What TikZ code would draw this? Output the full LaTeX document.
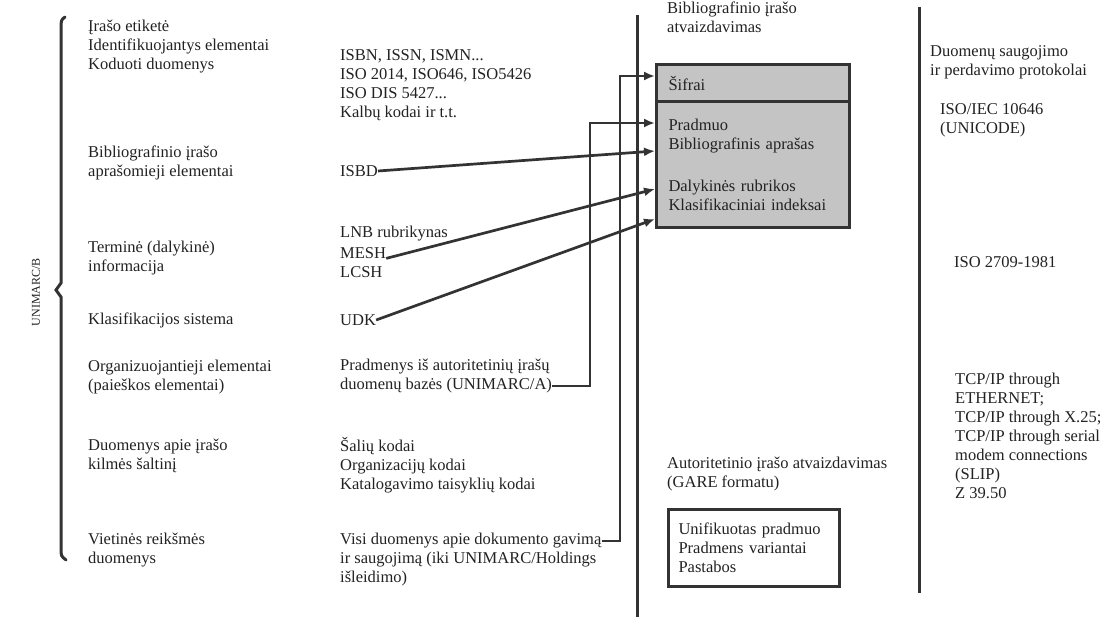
\documentclass[tikz,border=0pt]{standalone}
\usepackage{fontspec}
\setmainfont{Liberation Serif}
\usetikzlibrary{arrows.meta}
\newcommand\dfont{\fontsize{16.5}{19}\selectfont}
\definecolor{ink}{HTML}{222222}
\definecolor{lineink}{HTML}{333333}
\definecolor{boxfill}{HTML}{C4C4C4}
\tikzset{
  txt/.style={anchor=west, inner sep=0pt, align=left, font=\dfont, text=ink},
  ln/.style={line width=2.7pt, draw=lineink},
  arr/.style={ln, -{Latex[length=11pt,width=9pt]}},
  sepline/.style={line width=3pt, draw=lineink},
  graybox/.style={draw=lineink, line width=3pt, fill=boxfill, anchor=north west,
    minimum width=193pt, inner xsep=12pt, text width=169pt, align=left, font=\dfont, text=ink},
  whitebox/.style={draw=lineink, line width=3pt, anchor=north west,
    minimum width=171pt, minimum height=77pt, inner xsep=10pt, text width=151pt, align=left, font=\dfont, text=ink},
}
\begin{document}
\begin{tikzpicture}[x=1pt,y=-1pt]
\useasboundingbox (0,0) rectangle (1120,623);

% left brace
\draw[line width=3pt, draw=lineink, line cap=round]
  (65,17) .. controls (61,20) .. (61,30) -- (61,283) -- (56,290) -- (61,297)
  -- (61,548) .. controls (61,556) .. (66,560);
\node[rotate=90, inner sep=0pt, font=\fontsize{12}{13}\selectfont, text=ink] (unimarc) at (36,292) {UNIMARC/B};

% left column
\node[txt] (l1) at (88,47) {Įrašo etiketė\\Identifikuojantys elementai\\Koduoti duomenys};
\node[txt] (l2) at (88,162.5) {Bibliografinio įrašo\\aprašomieji elementai};
\node[txt] (l3) at (88,258.5) {Terminė (dalykinė)\\informacija};
\node[txt] (l4) at (88,320) {Klasifikacijos sistema};
\node[txt] (l5) at (88,377.5) {Organizuojantieji elementai\\(paieškos elementai)};
\node[txt] (l6) at (88,455.5) {Duomenys apie įrašo\\kilmės šaltinį};
\node[txt] (l7) at (88,550.5) {Vietinės reikšmės\\duomenys};

% middle column
\node[txt] (m1) at (340,85) {ISBN, ISSN, ISMN...\\ISO 2014, ISO646, ISO5426\\ISO DIS 5427...\\Kalbų kodai ir t.t.};
\node[txt] (isbd) at (340,171) {ISBD};
\node[txt] (lnb) at (340,234) {LNB rubrikynas};
\node[txt] (mesh) at (340,253) {MESH};
\node[txt] (lcsh) at (340,272) {LCSH};
\node[txt] (udk) at (340,320) {UDK};
\node[txt] (m5a) at (340,367) {Pradmenys iš autoritetinių įrašų};
\node[txt] (m5b) at (340,386) {duomenų bazės (UNIMARC/A)};
\node[txt] (m6) at (340,465) {Šalių kodai\\Organizacijų kodai\\Katalogavimo taisyklių kodai};
\node[txt] (m7a) at (340,541) {Visi duomenys apie dokumento gavimą};
\node[txt] (m7b) at (340,569.5) {ir saugojimą (iki UNIMARC/Holdings\\išleidimo)};

% separators
\draw[sepline] (637,15) -- (637,617);
\draw[sepline] (919,7) -- (919,593);

% bibliographic record display
\node[txt] (bibt) at (667,17.5) {Bibliografinio įrašo\\atvaizdavimas};
\node[graybox, minimum height=37pt] (sif) at (655,63) {Šifrai};
\node[graybox, minimum height=126pt] (body) at (655,100)
  {Pradmuo\\Bibliografinis aprašas\\[23pt]Dalykinės rubrikos\\Klasifikaciniai indeksai};

% authority record display
\node[txt] (autt) at (667,474.5) {Autoritetinio įrašo atvaizdavimas\\(GARE formatu)};
\node[whitebox] (auth) at (667,508) {Unifikuotas pradmuo\\Pradmens variantai\\Pastabos};

% right column
\node[txt] (r1) at (930,62) {Duomenų saugojimo\\ir perdavimo protokolai};
\node[txt] (r2) at (940,120) {ISO/IEC 10646\\(UNICODE)};
\node[txt] (r3) at (954,262) {ISO 2709-1981};
\node[txt] (r4) at (955,435.5) {TCP/IP through\\ETHERNET;\\TCP/IP through X.25;\\TCP/IP through serial\\modem connections\\(SLIP)\\Z 39.50};

% connectors
\coordinate (j1) at (590,123);
\coordinate (j2) at (620,76);
\draw[arr] (m7a.east) -| (j2) -- (sif.west |- j2);
\draw[arr] (m5b.east) -| (j1) -- (body.west |- j1);
\draw[arr] (isbd.east) -- (body.west |- 0,151);
\draw[arr] (mesh.base east) -- (body.west |- 0,189);
\draw[arr] (udk.east) -- (body.west |- 0,219);
\end{tikzpicture}
\end{document}
